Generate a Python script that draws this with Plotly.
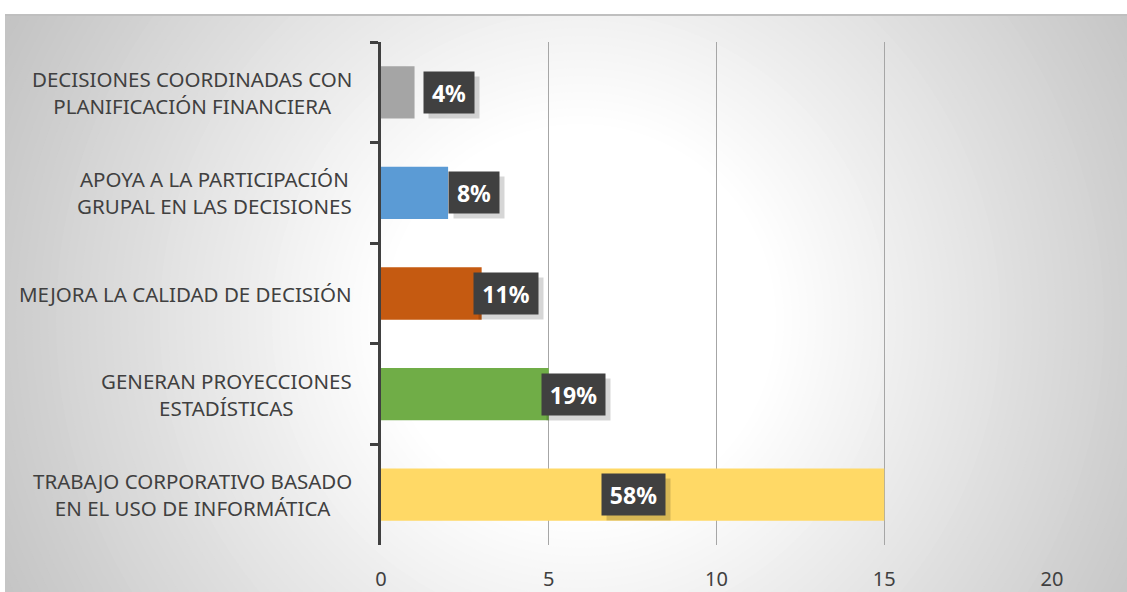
import plotly.graph_objects as go

# ---- data (top to bottom as displayed) ----
categories = [
    "DECISIONES COORDINADAS CON<br>PLANIFICACIÓN FINANCIERA",
    "APOYA A LA PARTICIPACIÓN<br>GRUPAL EN LAS DECISIONES",
    "MEJORA LA CALIDAD DE DECISIÓN",
    "GENERAN PROYECCIONES<br>ESTADÍSTICAS",
    "TRABAJO CORPORATIVO BASADO<br>EN EL USO DE INFORMÁTICA",
]
values = [1, 2, 3, 5, 15]
pct_labels = ["4%", "8%", "11%", "19%", "58%"]
x_ticks = [0, 5, 10, 15, 20]

# ---- styles ----
bar_colors = ["#a5a5a5", "#5b9bd5", "#c55a11", "#70ad47", "#ffd966"]
label_xshift = [8, 0, -9, -8, -283]     # pixel offsets of data-label boxes from bar end
label_width = [50, 50, 64, 63, 63]
TEXT = "#404040"
FONT = "Noto Sans"

W, H = 1127, 592
L, R, T, B = 381, 75, 42, 47
PW, PH = W - L - R, H - T - B


def px2paper_x(px):
    return (px - L) / PW


def px2paper_y(py):
    return (H - B - py) / PH


fig = go.Figure()
fig.add_trace(go.Bar(
    y=categories, x=values, orientation="h",
    marker=dict(color=bar_colors, line=dict(width=0)),
    hoverinfo="skip", showlegend=False,
))

shapes = []
# radial gradient background via concentric circles
cx, cy = 580, 320
r_in, r_out = 200, 640
c_in, c_out = 255, 196
r = 700
while r >= r_in - 10:
    f = min(max((r - r_in) / (r_out - r_in), 0), 1)
    c = round(c_in + (c_out - c_in) * f)
    shapes.append(dict(
        type="circle", xref="paper", yref="paper", layer="below",
        x0=px2paper_x(cx - r), x1=px2paper_x(cx + r),
        y0=px2paper_y(cy + r), y1=px2paper_y(cy - r),
        fillcolor=f"rgb({c},{c},{c})", line=dict(width=0),
    ))
    r -= 8
# white margins outside the chart box
shapes.append(dict(type="rect", xref="paper", yref="paper", layer="below",
                   x0=px2paper_x(-10), x1=px2paper_x(W + 10),
                   y0=px2paper_y(14), y1=px2paper_y(-10),
                   fillcolor="white", line=dict(width=0)))
shapes.append(dict(type="rect", xref="paper", yref="paper", layer="below",
                   x0=px2paper_x(-10), x1=px2paper_x(5),
                   y0=px2paper_y(H + 10), y1=px2paper_y(-10),
                   fillcolor="white", line=dict(width=0)))
# top border of chart box
shapes.append(dict(type="line", xref="paper", yref="paper", layer="below",
                   x0=px2paper_x(5), x1=px2paper_x(W),
                   y0=px2paper_y(15), y1=px2paper_y(15),
                   line=dict(color="#bfbfbf", width=2)))

annotations = []
# category labels (right-aligned block, centered lines)
for cat in categories:
    annotations.append(dict(
        x=0, xref="paper", y=cat, yref="y", xanchor="right", yanchor="middle",
        xshift=-27, text=cat, showarrow=False, align="center",
        font=dict(family=FONT, size=20.5, color=TEXT),
    ))
# data labels with shadow
for cat, v, t, xs, w in zip(categories, values, pct_labels, label_xshift, label_width):
    annotations.append(dict(
        x=v, y=cat, xanchor="left", yanchor="middle", xshift=xs + 5, yshift=-5,
        text=" ", showarrow=False, width=w, height=41, borderpad=0,
        bgcolor="rgba(0,0,0,0.16)",
    ))
    annotations.append(dict(
        x=v, y=cat, xanchor="left", yanchor="middle", xshift=xs,
        text=f"<b>{t}</b>", showarrow=False, width=w, height=41, borderpad=0,
        bgcolor="#404040", align="center",
        font=dict(family=FONT, size=23, color="white"),
    ))

fig.update_layout(
    width=W, height=H,
    margin=dict(l=L, r=R, t=T, b=B, autoexpand=False),
    paper_bgcolor="white", plot_bgcolor="rgba(0,0,0,0)",
    bargap=0.48,
    shapes=shapes, annotations=annotations,
    xaxis=dict(range=[0, 20], tickvals=x_ticks, ticktext=[str(v) for v in x_ticks],
               showgrid=True, gridcolor="#a6a6a6", gridwidth=1, zeroline=False,
               showline=False, ticks="", ticklabelstandoff=20, automargin=False,
               tickfont=dict(family=FONT, size=20, color=TEXT)),
    yaxis=dict(autorange="reversed", showticklabels=False, showgrid=False,
               zeroline=False, showline=True, linecolor=TEXT, linewidth=3,
               ticks="outside", tickson="boundaries", ticklen=8, tickwidth=3,
               tickcolor=TEXT, automargin=False),
)

fig.write_html("out.html", config={"displayModeBar": False},
               post_script="document.body.style.margin='0';document.body.style.overflow='hidden';")
